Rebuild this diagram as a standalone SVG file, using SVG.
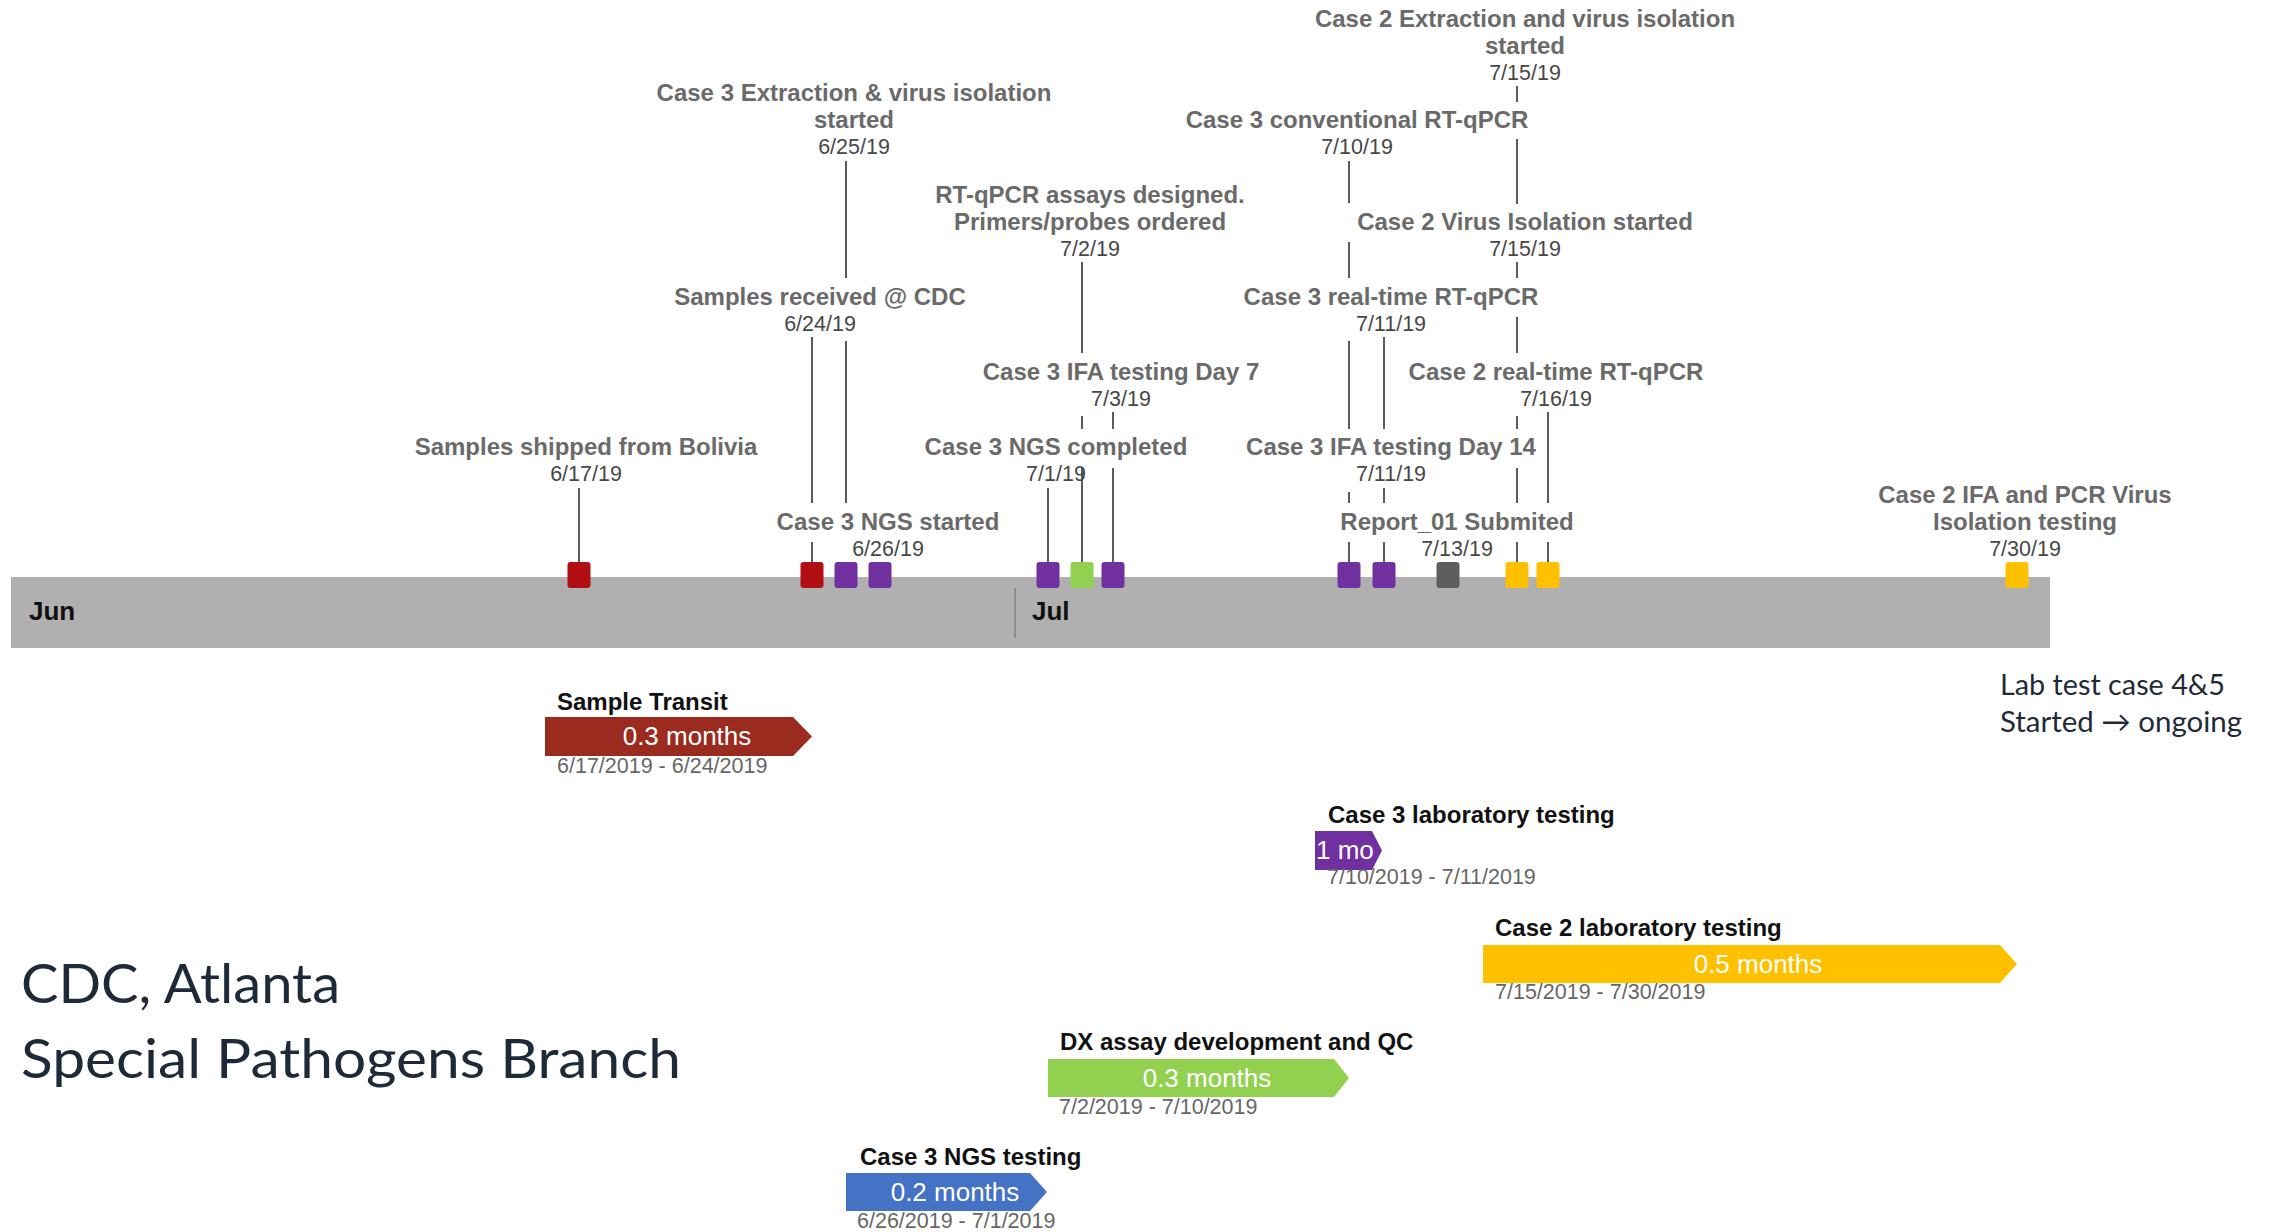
<svg xmlns="http://www.w3.org/2000/svg" width="2272" height="1232" viewBox="0 0 2272 1232">
  <style>
    .ttl { font-family: "Liberation Sans", Arial, sans-serif; font-weight: bold; font-size: 24px; fill: #6a6a6a; text-anchor: middle; }
    .dt { font-family: "Liberation Sans", Arial, sans-serif; font-size: 21.5px; fill: #474747; text-anchor: middle; }
    .stem { stroke: #5c5c5c; stroke-width: 2; fill: none; }
    .mon { font-family: "Liberation Sans", Arial, sans-serif; font-weight: bold; font-size: 26px; fill: #111; }
    .btl { font-family: "Liberation Sans", Arial, sans-serif; font-weight: bold; font-size: 24px; fill: #111; }
    .bdt { font-family: "Liberation Sans", Arial, sans-serif; font-size: 21.5px; fill: #666; }
    .bval { font-family: "Liberation Sans", Arial, sans-serif; font-size: 26px; fill: #fff; text-anchor: middle; }
    .note { font-family: Lato, "Open Sans", sans-serif; fill: #1f2a38; }
    .red { fill: #b10f14; }
    .pur { fill: #7030a0; }
    .grn { fill: #92d050; }
    .gry { fill: #605e5c; }
    .yel { fill: #ffc000; }
  </style>
  <defs>
    <rect id="mk" x="-11.5" y="0" width="23" height="26" rx="3" ry="3"/>
  </defs>

  <rect width="2272" height="1232" fill="#ffffff"/>

  <!-- timeline axis -->
  <g id="axis">
    <rect x="11" y="577" width="2039" height="71" fill="#b0b0b0"/>
    <line x1="1015" y1="588" x2="1015" y2="638" stroke="#8c8c8c" stroke-width="2"/>
    <text class="mon" x="29" y="620">Jun</text>
    <text class="mon" x="1032" y="620">Jul</text>
  </g>

  <!-- stems from labels down to the milestone markers -->
  <g id="connectors">
    <path class="stem" d="M579 488V562"/>
    <path class="stem" d="M812 337V503M812 542V562"/>
    <path class="stem" d="M846 161V278M846 341V503"/>
    <path class="stem" d="M1048 488V562"/>
    <path class="stem" d="M1082 262V353M1082 416V429M1082 468V562"/>
    <path class="stem" d="M1113 412V429M1113 468V562"/>
    <path class="stem" d="M1349 161V203M1349 242V278M1349 341V429M1349 492V503M1349 542V562"/>
    <path class="stem" d="M1384 337V429M1384 488V503M1384 542V562"/>
    <path class="stem" d="M1517 86V102M1517 139V204M1517 262V278M1517 317V353M1517 416V429M1517 468V503M1517 542V562"/>
    <path class="stem" d="M1548 412V503M1548 542V562"/>
  </g>

  <!-- milestone markers on the axis -->
  <g id="markers">
    <use href="#mk" class="red" x="579" y="562"/>
    <use href="#mk" class="red" x="812" y="562"/>
    <use href="#mk" class="pur" x="846" y="562"/>
    <use href="#mk" class="pur" x="880" y="562"/>
    <use href="#mk" class="pur" x="1048" y="562"/>
    <use href="#mk" class="grn" x="1082" y="562"/>
    <use href="#mk" class="pur" x="1113" y="562"/>
    <use href="#mk" class="pur" x="1349" y="562"/>
    <use href="#mk" class="pur" x="1384" y="562"/>
    <use href="#mk" class="gry" x="1448" y="562"/>
    <use href="#mk" class="yel" x="1517" y="562"/>
    <use href="#mk" class="yel" x="1548" y="562"/>
    <use href="#mk" class="yel" x="2017" y="562"/>
  </g>

  <!-- milestone labels -->
  <g id="ev-shipped">
    <text class="ttl" x="586" y="455">Samples shipped from Bolivia</text>
    <text class="dt" x="586" y="481">6/17/19</text>
  </g>
  <g id="ev-received">
    <text class="ttl" x="820" y="305">Samples received @ CDC</text>
    <text class="dt" x="820" y="331">6/24/19</text>
  </g>
  <g id="ev-c3-extraction">
    <text class="ttl" x="854" y="101">Case 3 Extraction &amp; virus isolation</text>
    <text class="ttl" x="854" y="128">started</text>
    <text class="dt" x="854" y="154">6/25/19</text>
  </g>
  <g id="ev-c3-ngs-start">
    <text class="ttl" x="888" y="530">Case 3 NGS started</text>
    <text class="dt" x="888" y="556">6/26/19</text>
  </g>
  <g id="ev-assays">
    <text class="ttl" x="1090" y="203">RT-qPCR assays designed.</text>
    <text class="ttl" x="1090" y="230">Primers/probes ordered</text>
    <text class="dt" x="1090" y="256">7/2/19</text>
  </g>
  <g id="ev-c3-ifa7">
    <text class="ttl" x="1121" y="380">Case 3 IFA testing Day 7</text>
    <text class="dt" x="1121" y="406">7/3/19</text>
  </g>
  <g id="ev-c3-ngs-done">
    <text class="ttl" x="1056" y="455">Case 3 NGS completed</text>
    <text class="dt" x="1056" y="481">7/1/19</text>
  </g>
  <g id="ev-c3-conv">
    <text class="ttl" x="1357" y="128">Case 3 conventional RT-qPCR</text>
    <text class="dt" x="1357" y="154">7/10/19</text>
  </g>
  <g id="ev-c2-extraction">
    <text class="ttl" x="1525" y="27">Case 2 Extraction and virus isolation</text>
    <text class="ttl" x="1525" y="54">started</text>
    <text class="dt" x="1525" y="80">7/15/19</text>
  </g>
  <g id="ev-c2-isolation">
    <text class="ttl" x="1525" y="230">Case 2 Virus Isolation started</text>
    <text class="dt" x="1525" y="256">7/15/19</text>
  </g>
  <g id="ev-c3-realtime">
    <text class="ttl" x="1391" y="305">Case 3 real-time RT-qPCR</text>
    <text class="dt" x="1391" y="331">7/11/19</text>
  </g>
  <g id="ev-c2-realtime">
    <text class="ttl" x="1556" y="380">Case 2 real-time RT-qPCR</text>
    <text class="dt" x="1556" y="406">7/16/19</text>
  </g>
  <g id="ev-c3-ifa14">
    <text class="ttl" x="1391" y="455">Case 3 IFA testing Day 14</text>
    <text class="dt" x="1391" y="481">7/11/19</text>
  </g>
  <g id="ev-report">
    <text class="ttl" x="1457" y="530">Report_01 Submited</text>
    <text class="dt" x="1457" y="556">7/13/19</text>
  </g>
  <g id="ev-c2-ifa-pcr">
    <text class="ttl" x="2025" y="503">Case 2 IFA and PCR Virus</text>
    <text class="ttl" x="2025" y="530">Isolation testing</text>
    <text class="dt" x="2025" y="556">7/30/19</text>
  </g>

  <!-- duration bars -->
  <g id="bar-transit">
    <text class="btl" x="557" y="710">Sample Transit</text>
    <polygon points="545,717 793,717 812,736.5 793,756 545,756" fill="#9b2b1f"/>
    <text class="bval" x="687" y="745">0.3 months</text>
    <text class="bdt" x="557" y="773">6/17/2019 - 6/24/2019</text>
  </g>
  <g id="bar-c3-lab">
    <text class="btl" x="1328" y="823">Case 3 laboratory testing</text>
    <polygon points="1315,831 1372,831 1382,850.5 1372,870 1315,870" fill="#7030a0"/>
    <text class="bval" x="1316" y="859" style="text-anchor:start">1 mo</text>
    <text class="bdt" x="1327" y="884">7/10/2019 - 7/11/2019</text>
  </g>
  <g id="bar-c2-lab">
    <text class="btl" x="1495" y="936">Case 2 laboratory testing</text>
    <polygon points="1483,945 2000,945 2017,964 2000,983 1483,983" fill="#ffc000"/>
    <text class="bval" x="1758" y="973">0.5 months</text>
    <text class="bdt" x="1495" y="999">7/15/2019 - 7/30/2019</text>
  </g>
  <g id="bar-dx">
    <text class="btl" x="1060" y="1050">DX assay development and QC</text>
    <polygon points="1048,1059 1334,1059 1349,1078 1334,1097 1048,1097" fill="#92d050"/>
    <text class="bval" x="1207" y="1087">0.3 months</text>
    <text class="bdt" x="1059" y="1114">7/2/2019 - 7/10/2019</text>
  </g>
  <g id="bar-c3-ngs">
    <text class="btl" x="860" y="1165">Case 3 NGS testing</text>
    <polygon points="846,1173 1030,1173 1047,1192 1030,1211 846,1211" fill="#4472c4"/>
    <text class="bval" x="955" y="1201">0.2 months</text>
    <text class="bdt" x="857" y="1228">6/26/2019 - 7/1/2019</text>
  </g>

  <!-- side notes -->
  <g id="note-lab">
    <text class="note" x="2000" y="695" font-size="29" textLength="225" lengthAdjust="spacingAndGlyphs">Lab test case 4&amp;5</text>
    <text class="note" x="2000" y="732" font-size="29" textLength="242" lengthAdjust="spacingAndGlyphs">Started → ongoing</text>
  </g>
  <g id="org">
    <text class="note" x="21" y="1003" font-size="55" textLength="319" lengthAdjust="spacingAndGlyphs">CDC, Atlanta</text>
    <text class="note" x="21" y="1078" font-size="55" textLength="660" lengthAdjust="spacingAndGlyphs">Special Pathogens Branch</text>
  </g>
</svg>
